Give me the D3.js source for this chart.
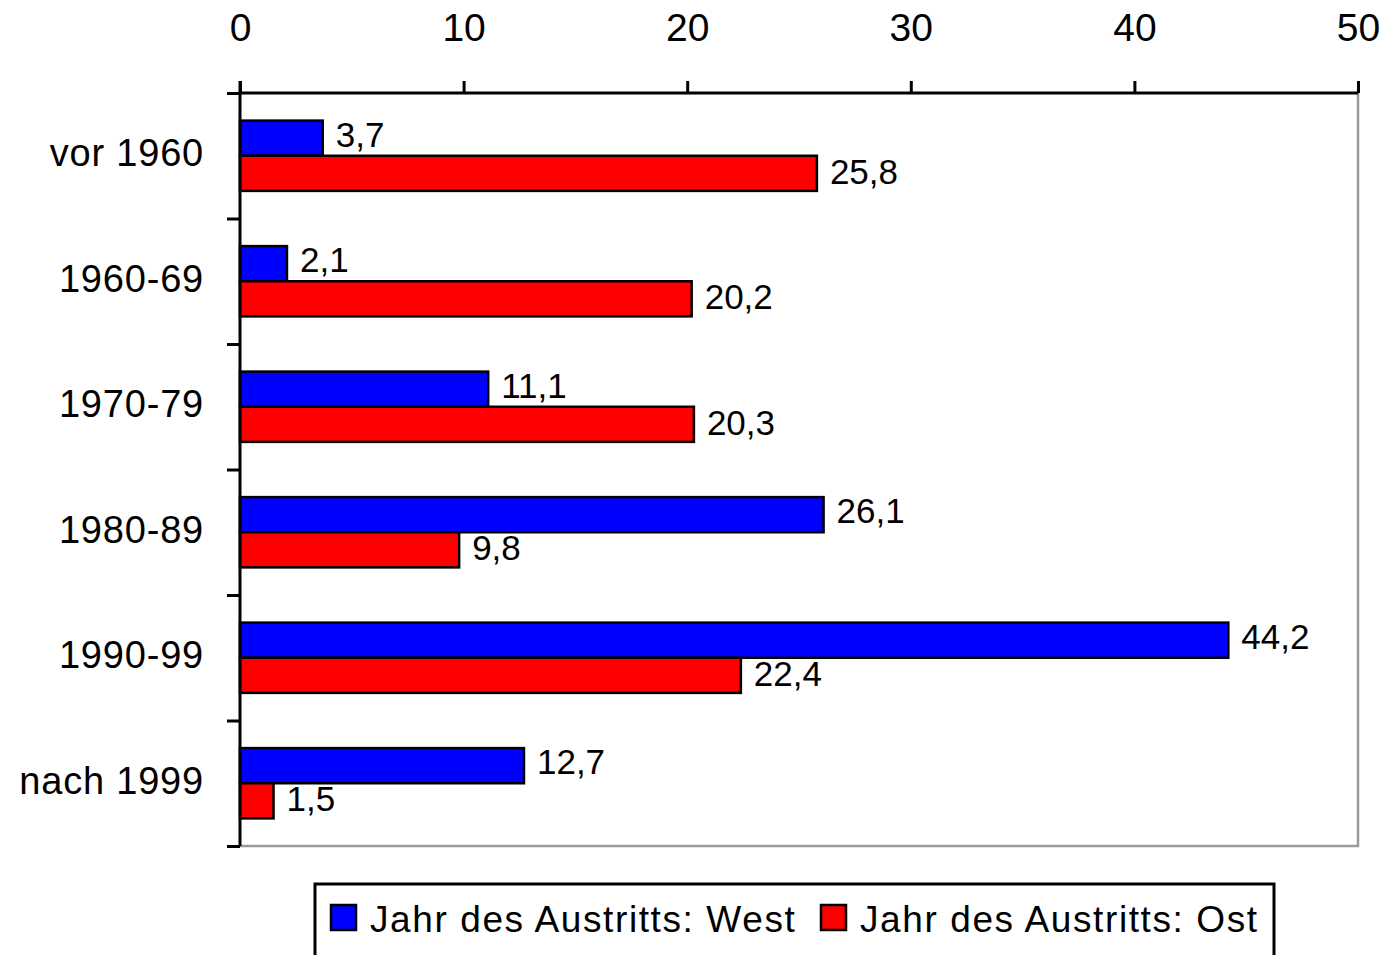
<!DOCTYPE html>
<html>
<head>
<meta charset="utf-8">
<script src="https://cdn.jsdelivr.net/npm/d3@7"></script>
<style>
  body { margin: 0; background: #fff; }
  svg { display: block; font-family: "Liberation Sans", Arial, sans-serif; }
</style>
</head>
<body>
<svg id="chart" width="1384" height="955"></svg>
<script>
// categories and series
const categories = ["vor 1960", "1960-69", "1970-79", "1980-89", "1990-99", "nach 1999"];
const west = [3.7, 2.1, 11.1, 26.1, 44.2, 12.7];
const ost = [25.8, 20.2, 20.3, 9.8, 22.4, 1.5];
const seriesNames = ["Jahr des Austritts: West", "Jahr des Austritts: Ost"];
const seriesColors = ["#0000ff", "#ff0000"];
const xTicks = [0, 10, 20, 30, 40, 50];

const plotL = 240, plotR = 1358, plotT = 93, plotB = 846;
const svg = d3.select("#chart");

const x = d3.scaleLinear().domain([0, 50]).range([plotL, plotR]);
const y = d3.scaleBand().domain(categories).range([plotT, plotB])
  .paddingInner(0.44).paddingOuter(0.22);
const sub = d3.scaleBand().domain([0, 1]).range([0, y.bandwidth()]);

const fmt = v => String(v).replace(".", ",");

// gray frame right & bottom
svg.append("path")
  .attr("d", `M${plotR},${plotT}V${plotB}H${plotL}`)
  .attr("fill", "none").attr("stroke", "#999").attr("stroke-width", 2.5);

// bars
const rows = categories.map((c, i) => ({ c, vals: [west[i], ost[i]] }));
const g = svg.append("g");
rows.forEach(r => {
  r.vals.forEach((v, k) => {
    const y0 = y(r.c) + sub(k);
    g.append("rect")
      .attr("x", x(0)).attr("y", y0)
      .attr("width", x(v) - x(0)).attr("height", sub.bandwidth())
      .attr("fill", seriesColors[k])
      .attr("stroke", "#000").attr("stroke-width", 2.5);
    g.append("text")
      .attr("x", x(v) + 13)
      .attr("y", y0 + sub.bandwidth() / 2 - (k === 0 ? 4 : 2))
      .attr("dy", "0.36em")
      .attr("font-size", 35)
      .attr("fill", "#000")
      .text(fmt(v));
  });
});

// top axis
const xAxis = svg.append("g").attr("transform", `translate(0,${plotT})`)
  .call(d3.axisTop(x).tickValues(xTicks).tickSize(12).tickPadding(40).tickFormat(d => d));
xAxis.select(".domain").attr("stroke", "#000").attr("stroke-width", 3)
  .attr("d", `M${plotL},0H${plotR}`);
xAxis.selectAll(".tick line").attr("stroke", "#000").attr("stroke-width", 3);
xAxis.selectAll(".tick text").attr("font-size", 39).attr("fill", "#000")
  .attr("font-family", "Liberation Sans, Arial, sans-serif");

// left axis with ticks at band boundaries
const yb = d3.scaleLinear().domain([0, categories.length]).range([plotT, plotB]);
const yAxis = svg.append("g").attr("transform", `translate(${plotL},0)`)
  .call(d3.axisLeft(yb).tickValues(d3.range(categories.length + 1)).tickSize(13).tickFormat(""));
yAxis.select(".domain").attr("stroke", "#000").attr("stroke-width", 3)
  .attr("d", `M0,${plotT - 12}V${plotB}`);
yAxis.selectAll(".tick line").attr("stroke", "#000").attr("stroke-width", 3);

// category labels
svg.append("g").selectAll("text").data(categories).join("text")
  .attr("x", 204)
  .attr("y", d => y(d) + y.bandwidth() / 2 - 3)
  .attr("dy", "0.36em")
  .attr("text-anchor", "end")
  .attr("font-size", 38)
  .attr("letter-spacing", 0.8)
  .attr("fill", "#000")
  .text(d => d);

// legend
const lg = svg.append("g");
lg.append("rect").attr("x", 315).attr("y", 884).attr("width", 959).attr("height", 90)
  .attr("fill", "#fff").attr("stroke", "#000").attr("stroke-width", 3);
const legendX = [331, 821];
seriesNames.forEach((n, k) => {
  lg.append("rect").attr("x", legendX[k]).attr("y", 905).attr("width", 25).attr("height", 25)
    .attr("fill", seriesColors[k]).attr("stroke", "#000").attr("stroke-width", 2.5);
  lg.append("text").attr("x", legendX[k] + 39).attr("y", 932)
    .attr("font-size", 37).attr("letter-spacing", 1.6).attr("fill", "#000")
    .text(n);
});
</script>
</body>
</html>
